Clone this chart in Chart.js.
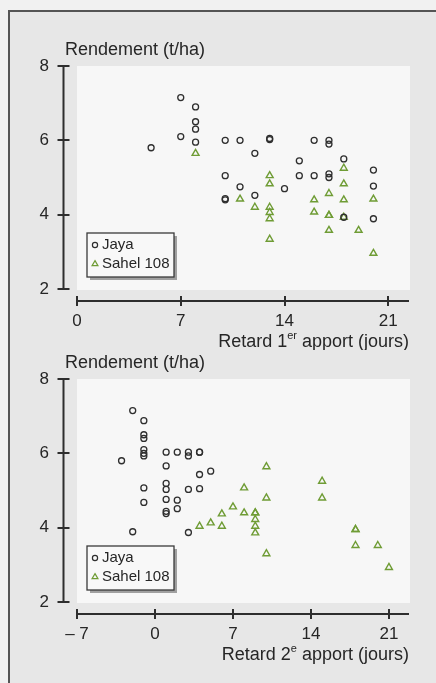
<!DOCTYPE html>
<html>
<head>
<meta charset="utf-8">
<script src="https://cdn.jsdelivr.net/npm/chart.js@4.4.1/dist/chart.umd.min.js"></script>
<style>
body{margin:0;background:#f1f1f1;width:436px;height:683px;overflow:hidden;position:relative}
#cadre{position:absolute;left:8px;top:10px;width:440px;height:680px;border-top:2px solid #555;border-left:2px solid #555;background:#e7e7e7}
canvas{position:absolute;left:0}
</style>
</head>
<body>
<div id="cadre"></div>
<canvas id="g1" width="436" height="350" style="top:0px"></canvas>
<canvas id="g2" width="436" height="370" style="top:313px"></canvas>
<script>
// retard 1er apport
var jayaX1 = [5, 7, 7, 8, 8, 8, 8, 10, 10, 10, 10, 11, 11, 12, 12, 13, 13, 14, 15, 15, 16, 16, 17, 17, 17, 17, 18, 18, 20, 20, 20];
var jayaY1 = [5.8, 7.15, 6.1, 6.9, 6.5, 6.3, 5.95, 6.0, 5.05, 4.43, 4.4, 6.0, 4.75, 5.65, 4.52, 6.05, 6.02, 4.7, 5.45, 5.05, 6.0, 5.05, 6.0, 5.9, 5.1, 5.0, 5.5, 3.93, 5.2, 4.77, 3.89];
var sahelX1 = [8, 11, 12, 13, 13, 13, 13, 13, 13, 16, 16, 17, 17, 17, 17, 18, 18, 18, 18, 19, 20, 20];
var sahelY1 = [5.65, 4.42, 4.2, 5.05, 4.83, 4.2, 4.06, 3.89, 3.34, 4.4, 4.07, 4.57, 3.98, 3.98, 3.58, 5.25, 4.83, 4.4, 3.93, 3.58, 4.42, 2.96];

// retard 2e apport
var jayaX2 = [-3, -2, -2, -1, -1, -1, -1, -1, -1, -1, -1, 1, 1, 1, 1, 1, 1, 1, 2, 2, 2, 3, 3, 3, 3, 4, 4, 4, 4, 5];
var jayaY2 = [5.8, 7.15, 3.89, 6.88, 6.5, 6.4, 6.1, 6.0, 5.93, 5.07, 4.68, 6.03, 5.66, 5.19, 5.03, 4.76, 4.44, 4.38, 6.03, 4.74, 4.51, 6.03, 5.93, 5.03, 3.87, 6.03, 6.03, 5.43, 5.05, 5.52];
var sahelX2 = [4, 5, 6, 6, 7, 8, 8, 9, 9, 9, 9, 9, 10, 10, 10, 15, 15, 18, 18, 18, 20, 21];
var sahelY2 = [4.04, 4.13, 4.04, 4.37, 4.56, 5.07, 4.4, 4.4, 4.4, 4.22, 4.04, 3.86, 5.64, 4.8, 3.3, 5.25, 4.8, 3.95, 3.95, 3.52, 3.52, 2.93];

var series = ['Jaya', 'Sahel 108'];
var xTicks1 = [0, 7, 14, 21];
var xLabels1 = ['0', '7', '14', '21'];
var xTicks2 = [-7, 0, 7, 14, 21];
var xLabels2 = ['\u2013 7', '0', '7', '14', '21'];
var yTicks = [2, 4, 6, 8];
var yLabels = ['2', '4', '6', '8'];

Chart.defaults.font.family = '"Liberation Sans", Arial, sans-serif';
Chart.defaults.color = '#262626';

var encre = '#2e2e2e';
var vert = '#6f9c35';
var police = '"Liberation Sans", Arial, sans-serif';

function pts(xs, ys) {
  return xs.map(function (x, i) { return { x: x, y: ys[i] }; });
}

// fond blanc, axes decales, titres, legende
var habillage = {
  id: 'habillage',
  beforeDraw: function (chart) {
    var a = chart.chartArea, ctx = chart.ctx;
    ctx.save();
    ctx.fillStyle = '#f7f7f7';
    ctx.fillRect(a.left, a.top, a.right - a.left + 1, a.bottom - a.top + 1);
    ctx.restore();
  },
  afterDraw: function (chart, args, opt) {
    var a = chart.chartArea, ctx = chart.ctx;
    var sx = chart.scales.x, sy = chart.scales.y;
    ctx.save();
    ctx.strokeStyle = encre;
    ctx.lineWidth = 2;
    // axe x
    var y0 = a.bottom + 12;
    ctx.beginPath();
    ctx.moveTo(sx.getPixelForValue(sx.min), y0);
    ctx.lineTo(a.right, y0);
    sx.ticks.forEach(function (t) {
      var px = Math.round(sx.getPixelForValue(t.value));
      ctx.moveTo(px, y0 - 5);
      ctx.lineTo(px, y0 + 5);
    });
    ctx.stroke();
    // axe y
    var x0 = a.left - 13.5;
    ctx.beginPath();
    ctx.moveTo(x0, sy.getPixelForValue(sy.max));
    ctx.lineTo(x0, sy.getPixelForValue(sy.min));
    sy.ticks.forEach(function (t) {
      var py = Math.round(sy.getPixelForValue(t.value));
      ctx.moveTo(x0 - 6, py);
      ctx.lineTo(x0 + 6, py);
    });
    ctx.stroke();

    // titres
    ctx.fillStyle = '#262626';
    ctx.textBaseline = 'middle';
    ctx.font = '18px ' + police;
    ctx.textAlign = 'left';
    ctx.fillText('Rendement (t/ha)', 65, 50);

    var t1 = opt.titre[0], t2 = opt.titre[1], t3 = opt.titre[2];
    ctx.font = '18px ' + police;
    var w1 = ctx.measureText(t1).width, w3 = ctx.measureText(t3).width;
    ctx.font = '11px ' + police;
    var w2 = ctx.measureText(t2).width;
    var xd = a.right - (w1 + w2 + w3);
    var ty = a.bottom + 53;
    ctx.font = '18px ' + police;
    ctx.fillText(t1, xd, ty);
    ctx.font = '11px ' + police;
    ctx.fillText(t2, xd + w1, ty - 6);
    ctx.font = '18px ' + police;
    ctx.fillText(t3, xd + w1 + w2, ty);

    // legende
    var bx = 87, by = 233, bw = 87, bh = 44;
    ctx.fillStyle = 'rgba(90,90,90,0.55)';
    ctx.fillRect(bx + 3, by + 3, bw, bh);
    ctx.fillStyle = '#f8f8f8';
    ctx.fillRect(bx, by, bw, bh);
    ctx.lineWidth = 1.3;
    ctx.strokeStyle = '#3a3a3a';
    ctx.strokeRect(bx, by, bw, bh);

    var ds = chart.data.datasets;
    ctx.lineWidth = 1.2;
    ctx.strokeStyle = encre;
    ctx.beginPath();
    ctx.arc(95, 245, 2.6, 0, Math.PI * 2);
    ctx.stroke();
    ctx.strokeStyle = vert;
    ctx.beginPath();
    var r = 3.4;
    ctx.moveTo(95, 264 - r);
    ctx.lineTo(95 + r * 0.866, 264 + r / 2);
    ctx.lineTo(95 - r * 0.866, 264 + r / 2);
    ctx.closePath();
    ctx.stroke();

    ctx.fillStyle = '#262626';
    ctx.font = '15px ' + police;
    ctx.fillText(ds[0].label, 102, 245);
    ctx.fillText(ds[1].label, 102, 264);
    ctx.restore();
  }
};

function graphe(id, jx, jy, sx, sy, xmin, xmax, xt, xl, titre, hauteurX) {
  return new Chart(document.getElementById(id).getContext('2d'), {
    type: 'scatter',
    data: {
      datasets: [{
        label: series[0],
        data: pts(jx, jy),
        pointStyle: 'circle',
        pointRadius: 3,
        pointBorderWidth: 1.3,
        borderColor: encre,
        backgroundColor: 'rgba(0,0,0,0)'
      }, {
        label: series[1],
        data: pts(sx, sy),
        pointStyle: 'triangle',
        pointRadius: 4,
        pointBorderWidth: 1.4,
        borderColor: vert,
        backgroundColor: 'rgba(0,0,0,0)'
      }]
    },
    options: {
      responsive: false,
      animation: false,
      devicePixelRatio: 1,
      events: [],
      layout: { padding: { top: 66, right: 27, left: 0, bottom: 0 } },
      plugins: {
        legend: { display: false },
        tooltip: { enabled: false },
        habillage: { titre: titre }
      },
      scales: {
        x: {
          type: 'linear',
          min: xmin,
          max: xmax,
          grid: { display: false, drawTicks: false },
          border: { display: false },
          afterBuildTicks: function (s) { s.ticks = xt.map(function (v) { return { value: v }; }); },
          afterFit: function (s) { s.height = hauteurX; },
          ticks: {
            padding: 22,
            maxRotation: 0,
            autoSkip: false,
            font: { size: 17 },
            callback: function (v) { return xl[xt.indexOf(v)]; }
          }
        },
        y: {
          min: 2,
          max: 8,
          grid: { display: false, drawTicks: false },
          border: { display: false },
          afterBuildTicks: function (s) { s.ticks = yTicks.map(function (v) { return { value: v }; }); },
          afterFit: function (s) { s.width = 77; },
          ticks: {
            padding: 28,
            font: { size: 17 },
            callback: function (v) { return yLabels[yTicks.indexOf(v)]; }
          }
        }
      }
    },
    plugins: [habillage]
  });
}

graphe('g1', jayaX1, jayaY1, sahelX1, sahelY1, 0, 22.4, xTicks1, xLabels1, ['Retard 1', 'er', ' apport (jours)'], 61);
graphe('g2', jayaX2, jayaY2, sahelX2, sahelY2, -7, 22.8, xTicks2, xLabels2, ['Retard 2', 'e', ' apport (jours)'], 81);
</script>
</body>
</html>
